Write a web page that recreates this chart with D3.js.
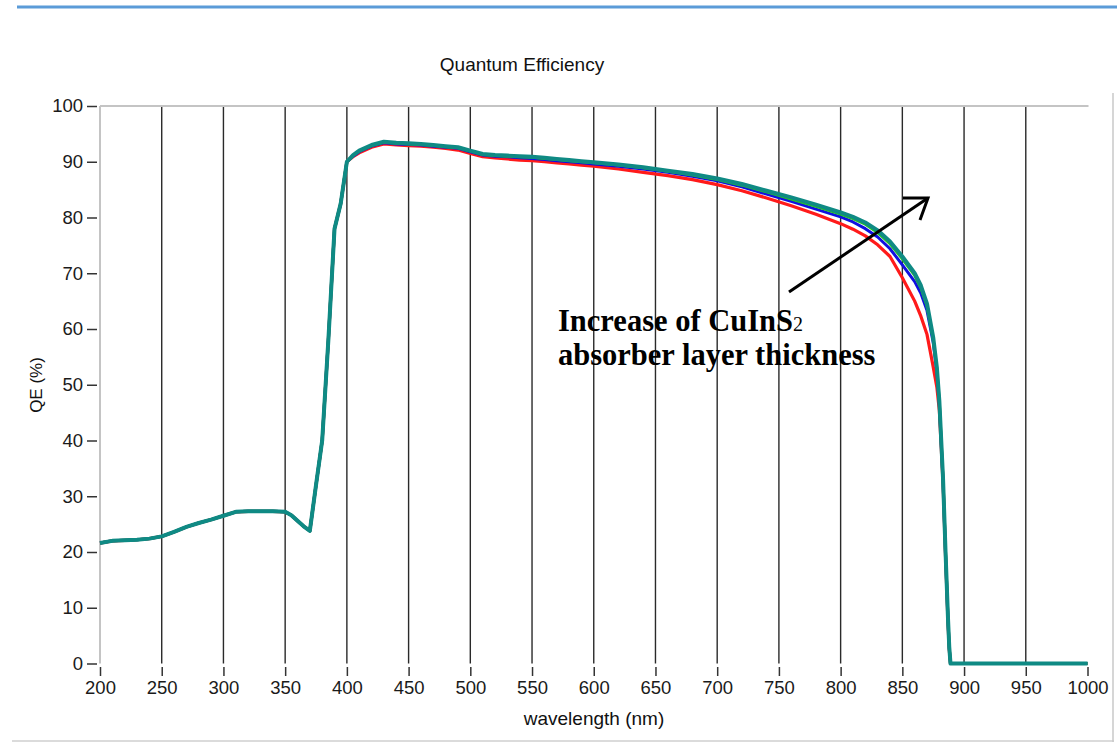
<!DOCTYPE html>
<html>
<head>
<meta charset="utf-8">
<script src="https://cdn.jsdelivr.net/npm/d3@7"></script>
<style>
  html, body { margin: 0; padding: 0; background: #fff; }
  svg { display: block; }
</style>
</head>
<body>
<svg id="chart" width="1117" height="742"></svg>
<script>
// ---- data ----
const wavelengths = [200,210,220,230,240,250,260,270,280,290,300,310,320,330,340,350,355,360,365,370,375,380,385,390,395,400,405,410,420,430,440,450,460,470,480,490,500,510,520,530,540,550,560,570,580,590,600,620,640,660,680,700,720,740,760,780,800,810,820,830,840,850,860,865,870,875,878,880,883,885,887,888,889,900,1000];

const qeTeal  = [21.6,22.0,22.1,22.2,22.4,22.8,23.6,24.5,25.2,25.8,26.5,27.2,27.3,27.3,27.3,27.2,26.6,25.6,24.6,23.8,32,40,58,78,82.5,90,91.2,92,93,93.6,93.4,93.3,93.2,93.0,92.8,92.6,92.0,91.4,91.2,91.1,91.0,90.9,90.7,90.5,90.3,90.1,89.9,89.5,89.0,88.4,87.8,87.0,86.0,84.8,83.6,82.3,80.9,80.1,79.1,77.7,75.7,73.0,70.0,67.8,64.5,58.5,53,47,33,20,8,3,0,0,0];
const qeGreen = [21.6,22.0,22.1,22.2,22.4,22.8,23.6,24.5,25.2,25.8,26.5,27.2,27.3,27.3,27.3,27.2,26.6,25.6,24.6,23.8,32,40,58,78,82.5,90,91.1,91.9,92.9,93.5,93.3,93.2,93.1,92.9,92.7,92.5,91.9,91.3,91.1,91.0,90.9,90.8,90.6,90.4,90.2,90.0,89.8,89.4,88.9,88.3,87.6,86.8,85.8,84.6,83.3,82.0,80.6,79.8,78.8,77.3,75.3,72.6,69.6,67.4,64.1,58.1,52.7,46.8,32.8,19.8,7.8,2.8,0,0,0];
const qeBlue  = [21.6,22.0,22.1,22.2,22.4,22.8,23.6,24.5,25.2,25.8,26.5,27.2,27.3,27.3,27.3,27.2,26.6,25.6,24.6,23.8,32,40,58,78,82.5,90,91.0,91.8,92.8,93.4,93.2,93.1,93.0,92.8,92.6,92.4,91.8,91.2,91.0,90.9,90.7,90.6,90.4,90.2,90.0,89.8,89.6,89.2,88.7,88.1,87.4,86.6,85.5,84.2,82.9,81.5,80.1,79.2,78.0,76.5,74.4,71.5,68.5,66.4,63.3,57.6,52.3,46.4,32.5,19.5,7.6,2.7,0,0,0];
const qeRed   = [21.6,22.0,22.1,22.2,22.4,22.8,23.6,24.5,25.2,25.8,26.5,27.2,27.3,27.3,27.3,27.2,26.6,25.6,24.6,23.8,32,40,58,78,82.5,90,90.9,91.6,92.6,93.2,93.0,92.9,92.8,92.6,92.4,92.1,91.5,90.9,90.7,90.5,90.3,90.2,90.0,89.8,89.6,89.4,89.2,88.7,88.1,87.5,86.8,85.9,84.8,83.5,82.1,80.6,78.9,77.9,76.7,75.1,73.0,69.2,65.0,62.3,59.0,53.2,49.5,45.3,32.3,19.3,7.3,2.5,0,0,0];

const xTicks = [200,250,300,350,400,450,500,550,600,650,700,750,800,850,900,950,1000];
const yTicks = [0,10,20,30,40,50,60,70,80,90,100];
const chartTitle = "Quantum Efficiency";
const xLabel = "wavelength (nm)";
const yLabel = "QE (%)";
const noteLine1 = "Increase of CuInS";
const noteSub = "2";
const noteLine2 = "absorber layer thickness";

const series = [
  { name: "red",   values: qeRed,   color: "#ff1a1a", width: 3.2 },
  { name: "blue",  values: qeBlue,  color: "#1010e0", width: 3 },
  { name: "green", values: qeGreen, color: "#22c02a", width: 3 },
  { name: "teal",  values: qeTeal,  color: "#0f8a84", width: 4 }
];

// ---- layout ----
const svg = d3.select("#chart");
const L = 100, R = 1087.5, T = 106, B = 663.5;
const x = d3.scaleLinear().domain([200, 1000]).range([L, R]);
const y = d3.scaleLinear().domain([0, 100]).range([B, T]);
const sans = "'Liberation Sans', Arial, sans-serif";

// outer frame pieces
svg.append("line").attr("x1", 17).attr("x2", 1117).attr("y1", 7).attr("y2", 7)
  .attr("stroke", "#5b9bd8").attr("stroke-width", 3);
svg.append("line").attr("x1", 12).attr("x2", 1114).attr("y1", 741).attr("y2", 741)
  .attr("stroke", "#cfcfcf").attr("stroke-width", 1.5);
svg.append("line").attr("x1", 1113).attr("x2", 1113).attr("y1", 93).attr("y2", 742)
  .attr("stroke", "#c8c8c8").attr("stroke-width", 1.5);

// title
svg.append("text").attr("x", 522).attr("y", 71).attr("text-anchor", "middle")
  .attr("font-family", sans).attr("font-size", 19).attr("fill", "#111").text(chartTitle);

// vertical grid lines
svg.append("g").selectAll("line").data(xTicks.filter(d => d > 200 && d < 1000)).join("line")
  .attr("x1", d => x(d)).attr("x2", d => x(d)).attr("y1", T).attr("y2", B)
  .attr("stroke", "#2a2a2a").attr("stroke-width", 1.4);

// plot border (top + left)
svg.append("line").attr("x1", L).attr("x2", R + 1).attr("y1", T).attr("y2", T)
  .attr("stroke", "#c4c4c4").attr("stroke-width", 2);
svg.append("line").attr("x1", L).attr("x2", L).attr("y1", T).attr("y2", B)
  .attr("stroke", "#c4c4c4").attr("stroke-width", 2);

// y axis
const yAxis = d3.axisLeft(y).tickValues(yTicks).tickSize(10).tickPadding(4).tickFormat(d3.format("d"));
const gy = svg.append("g").attr("transform", `translate(${L - 3},0)`).call(yAxis);
gy.select(".domain").remove();
gy.selectAll(".tick line").attr("stroke", "#333").attr("stroke-width", 1.5);
gy.selectAll(".tick text").attr("font-family", sans).attr("font-size", 18.5).attr("fill", "#1a1a1a");

// x axis
const xAxis = d3.axisBottom(x).tickValues(xTicks).tickSize(9).tickPadding(5).tickFormat(d3.format("d"));
const gx = svg.append("g").attr("transform", `translate(0,${B + 3.5})`).call(xAxis);
gx.select(".domain").remove();
gx.selectAll(".tick line").attr("stroke", "#333").attr("stroke-width", 1.5);
gx.selectAll(".tick text").attr("font-family", sans).attr("font-size", 18.5).attr("fill", "#1a1a1a");

// axis labels
svg.append("text").attr("x", 594).attr("y", 725).attr("text-anchor", "middle")
  .attr("font-family", sans).attr("font-size", 19).attr("fill", "#111").text(xLabel);
svg.append("text").attr("transform", "translate(42,385) rotate(-90)").attr("text-anchor", "middle")
  .attr("font-family", sans).attr("font-size", 17).attr("fill", "#111").text(yLabel);

// curves
const line = d3.line().x((d, i) => x(wavelengths[i])).y(d => y(d));
svg.append("g").selectAll("path").data(series).join("path")
  .attr("d", d => line(d.values))
  .attr("fill", "none")
  .attr("stroke", d => d.color)
  .attr("stroke-width", d => d.width)
  .attr("stroke-linejoin", "round");

// annotation
const serif = "'Liberation Serif', 'Times New Roman', serif";
const t1 = svg.append("text").attr("x", 558).attr("y", 331)
  .attr("font-family", serif).attr("font-weight", "bold").attr("font-size", 30.5).attr("fill", "#000");
t1.append("tspan").text(noteLine1);
t1.append("tspan").attr("font-size", 20).attr("font-weight", "normal").text(noteSub);
svg.append("text").attr("x", 558).attr("y", 365)
  .attr("font-family", serif).attr("font-weight", "bold").attr("font-size", 30.5).attr("fill", "#000")
  .text(noteLine2);

// arrow
const ax0 = 789, ay0 = 292, ax1 = 928, ay1 = 198;
svg.append("line").attr("x1", ax0).attr("y1", ay0).attr("x2", ax1).attr("y2", ay1)
  .attr("stroke", "#000").attr("stroke-width", 3);
svg.append("path").attr("d", `M${ax1 - 25},${ay1} L${ax1},${ay1} L${ax1 - 8},${ay1 + 22}`)
  .attr("fill", "none").attr("stroke", "#000").attr("stroke-width", 3).attr("stroke-linejoin", "miter");
</script>
</body>
</html>
